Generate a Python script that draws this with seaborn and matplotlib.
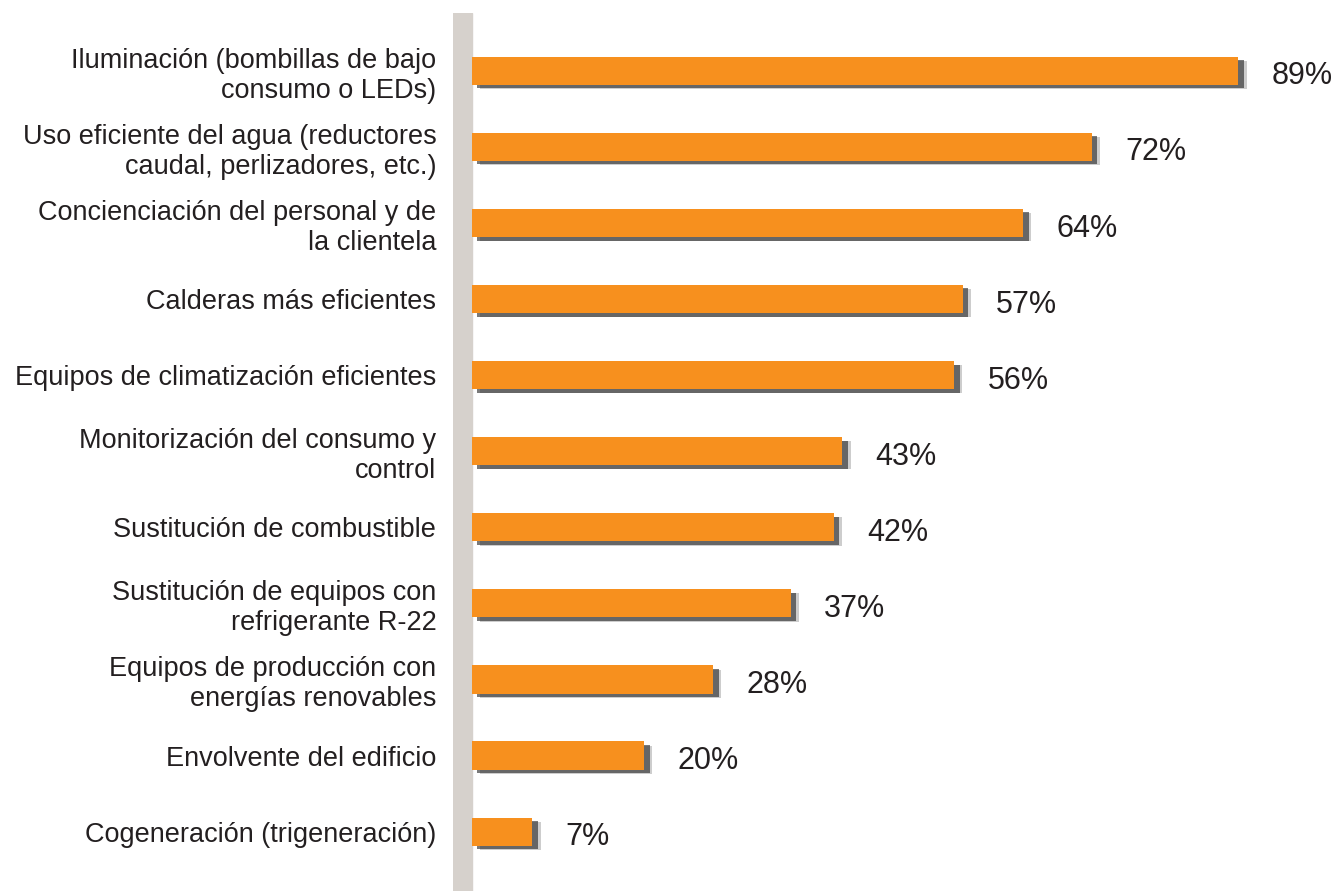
import matplotlib
matplotlib.use('Agg')
import matplotlib.pyplot as plt
import matplotlib.patheffects as pe
import seaborn as sns
import pandas as pd

medidas = [
    'Iluminación (bombillas de bajo\nconsumo o LEDs)',
    'Uso eficiente del agua (reductores\ncaudal, perlizadores, etc.)',
    'Concienciación del personal y de\nla clientela',
    'Calderas más eficientes',
    'Equipos de climatización eficientes',
    'Monitorización del consumo y\ncontrol',
    'Sustitución de combustible',
    'Sustitución de equipos con\nrefrigerante R-22',
    'Equipos de producción con\nenergías renovables',
    'Envolvente del edificio',
    'Cogeneración (trigeneración)',
]
porcentajes = [89, 72, 64, 57, 56, 43, 42, 37, 28, 20, 7]

df = pd.DataFrame({'medida': medidas, 'pct': porcentajes})

sns.set_style('white')
plt.rcParams['font.family'] = ['Liberation Sans', 'DejaVu Sans']

fig = plt.figure(figsize=(13.39, 8.91), dpi=100)
ax = fig.add_axes([453 / 1339, 0.0, 1 - 453 / 1339, 1 - 13 / 891])

sns.barplot(data=df, x='pct', y='medida', color='#F7901E', saturation=1,
            width=0.37, ax=ax, orient='h', edgecolor='none', linewidth=0)

# sombra difuminada bajo las barras
for bar in ax.patches:
    bar.set_path_effects([
        pe.SimplePatchShadow(offset=(6, -3), shadow_rgbFace='#3a3a3a', alpha=0.25),
        pe.SimplePatchShadow(offset=(4, -2.5), shadow_rgbFace='#222222', alpha=0.6),
        pe.Normal(),
    ])

etiquetas = ax.bar_label(ax.containers[0], labels=[f'{v}%' for v in porcentajes],
                         padding=24, fontsize=22, color='#231F20')
for t in etiquetas:
    t.xyann = (24, -4)

# franja gris del eje
ax.axvspan(-2.2, 0, color='#D6D1CC', zorder=0)

ax.set_xlim(-2.2, 100.7)
ax.set_ylim(10.78, -0.76)
ax.set_xlabel('')
ax.set_ylabel('')
ax.set_xticks([])
ax.tick_params(axis='y', length=0, pad=12, labelsize=19.5, labelcolor='#231F20')
for lab in ax.get_yticklabels():
    lab.set_multialignment('right')
for s in ax.spines.values():
    s.set_visible(False)

fig.savefig('out.png', dpi=100)
